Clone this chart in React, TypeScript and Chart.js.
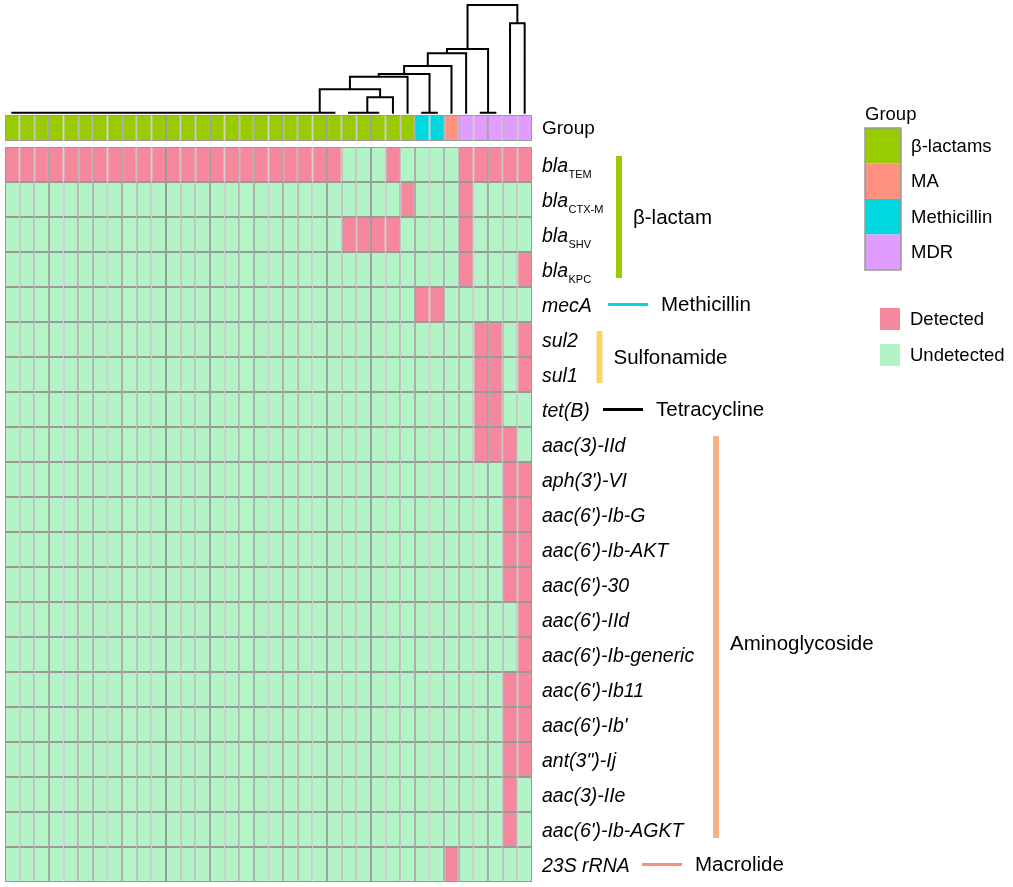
import React, { useEffect, useRef } from "react";
import { Chart, registerables } from "chart.js";

Chart.register(...registerables);

const FONT = "'Liberation Sans', Arial, Helvetica, sans-serif";

// ---------------- data ----------------
// Row labels (italic gene name + optional subscript)
const GENE_NAMES = [
  "bla", "bla", "bla", "bla", "mecA", "sul2", "sul1", "tet(B)",
  "aac(3)-IId", "aph(3')-VI", "aac(6')-Ib-G", "aac(6')-Ib-AKT", "aac(6')-30",
  "aac(6')-IId", "aac(6')-Ib-generic", "aac(6')-Ib11", "aac(6')-Ib'",
  "ant(3\")-Ij", "aac(3)-IIe", "aac(6')-Ib-AGKT", "23S rRNA",
];
const GENE_SUBSCRIPTS = [
  "TEM", "CTX-M", "SHV", "KPC", "", "", "", "", "", "", "", "", "", "", "", "", "", "", "", "", "",
];

// Column group membership (index into GROUP_NAMES)
const GROUP_NAMES = ["β-lactams", "MA", "Methicillin", "MDR"];
const GROUP_COLORS = ["#99CC00", "#FF9180", "#00D8E0", "#E09CFF"];
const COLUMN_GROUP = [
  0, 0, 0, 0, 0, 0, 0, 0, 0, 0, 0, 0, 0, 0, 0, 0, 0, 0, 0, 0, 0, 0, 0, 0, 0, 0, 0, 0,
  2, 2, 1, 3, 3, 3, 3, 3,
];

// Columns (0-based) in which each gene is detected
const DETECTED_COLUMNS: number[][] = [
  [0, 1, 2, 3, 4, 5, 6, 7, 8, 9, 10, 11, 12, 13, 14, 15, 16, 17, 18, 19, 20, 21, 22, 26, 31, 32, 33, 34, 35],
  [27, 31],
  [23, 24, 25, 26, 31],
  [31, 35],
  [28, 29],
  [32, 33, 35],
  [32, 33, 35],
  [32, 33],
  [32, 33, 34],
  [34, 35],
  [34, 35],
  [34, 35],
  [34, 35],
  [35],
  [35],
  [34, 35],
  [34, 35],
  [34, 35],
  [34],
  [34],
  [30],
];

const STATUS_NAMES = ["Detected", "Undetected"];
const STATUS_COLORS = ["#F5889D", "#B2F4C5"];

// Resistance class annotation
const CLASS_NAMES = ["β-lactam", "Methicillin", "Sulfonamide", "Tetracycline", "Aminoglycoside", "Macrolide"];
const CLASS_FIRST_ROW = [0, 4, 5, 7, 8, 20];
const CLASS_LAST_ROW = [3, 4, 6, 7, 19, 20];
const CLASS_COLORS = ["#99CC00", "#00D8E0", "#FCD36B", "#000000", "#F5B084", "#F8907F"];

// Column dendrogram (hclust style: negative = leaf column -(i+1), positive = earlier merge, 1-based)
const MERGE_LEFT = [
  -1, 1, 2, 3, 4, 5, 6, 7, 8, 9, 10, 11, 12, 13, 14, 15, 16, 17, 18, 19, 20, 21,
  -24, 23, -29, -33, 24, 22, 28, 29, 30, 31, 32, -35, 33,
];
const MERGE_RIGHT = [
  -2, -3, -4, -5, -6, -7, -8, -9, -10, -11, -12, -13, -14, -15, -16, -17, -18, -19, -20, -21, -22, -23,
  -25, -26, -30, -34, -27, 27, -28, 25, -31, -32, 26, -36, 34,
];
const MERGE_HEIGHT = [
  0, 0, 0, 0, 0, 0, 0, 0, 0, 0, 0, 0, 0, 0, 0, 0, 0, 0, 0, 0, 0, 0,
  0, 0, 0, 0, 0.44, 0.669, 1.03, 1.106, 1.334, 1.697, 1.82, 2.554, 3.077,
];

// ---------------- layout (in y units = one heatmap row) ----------------
const N_ROWS = GENE_NAMES.length;
const N_COLS = COLUMN_GROUP.length;
const GROUP_ROW = [21.17, 21.914];
const DENDRO_BASE = 21.98;
const Y_MAX = 25.1;

function buildDendrogram() {
  const nodeX: number[] = [];
  const nodeH: number[] = [];
  const pts: { x: number; y: number | null }[] = [];
  const pos = (id: number): [number, number] =>
    id < 0 ? [-id - 1 + 0.5, 0] : [nodeX[id - 1], nodeH[id - 1]];
  for (let k = 0; k < MERGE_LEFT.length; k++) {
    const [xa, ha] = pos(MERGE_LEFT[k]);
    const [xb, hb] = pos(MERGE_RIGHT[k]);
    const h = MERGE_HEIGHT[k];
    pts.push({ x: xa, y: DENDRO_BASE + ha });
    pts.push({ x: xa, y: DENDRO_BASE + h });
    pts.push({ x: xb, y: DENDRO_BASE + h });
    pts.push({ x: xb, y: DENDRO_BASE + hb });
    pts.push({ x: xb, y: null });
    nodeX.push((xa + xb) / 2);
    nodeH.push(h);
  }
  return pts;
}

const textPlugin = {
  id: "heatmapText",
  afterDraw(chart: any) {
    const ctx: CanvasRenderingContext2D = chart.ctx;
    const xs = chart.scales.x;
    const ys = chart.scales.y;
    const rowTop = (r: number) => ys.getPixelForValue(N_ROWS - r);
    const rowBottom = (r: number) => ys.getPixelForValue(N_ROWS - r - 1);
    const rowMid = (r: number) => (rowTop(r) + rowBottom(r)) / 2;
    const labelX = xs.getPixelForValue(N_COLS) + 10;
    ctx.save();
    ctx.fillStyle = "#000";
    ctx.textAlign = "left";

    // group row label
    ctx.font = `19px ${FONT}`;
    ctx.textBaseline = "middle";
    ctx.fillText("Group", labelX, (ys.getPixelForValue(GROUP_ROW[0]) + ys.getPixelForValue(GROUP_ROW[1])) / 2 + 1);

    // gene labels
    GENE_NAMES.forEach((name, r) => {
      const cy = rowMid(r);
      ctx.font = `italic 19.5px ${FONT}`;
      ctx.textBaseline = "alphabetic";
      const base = cy + 7;
      ctx.fillText(name, labelX, base);
      const sub = GENE_SUBSCRIPTS[r];
      if (sub) {
        const w = ctx.measureText(name).width;
        ctx.font = `11px ${FONT}`;
        ctx.fillText(sub, labelX + w + 0.5, base + 6);
      }
    });

    // class annotations
    const BAR_X = [619, 0, 599.5, 0, 716, 0];
    const LINE_X = [0, 608, 0, 603, 0, 642];
    ctx.textBaseline = "middle";
    CLASS_NAMES.forEach((name, i) => {
      const r0 = CLASS_FIRST_ROW[i];
      const r1 = CLASS_LAST_ROW[i];
      ctx.fillStyle = CLASS_COLORS[i];
      let tx: number;
      let ty: number;
      if (r0 !== r1) {
        const top = rowTop(r0) + 9;
        const bottom = rowBottom(r1) - 9;
        ctx.fillRect(BAR_X[i] - 3, top, 6, bottom - top);
        tx = BAR_X[i] + 14;
        ty = (top + bottom) / 2 + (i === 4 ? 6 : 0);
      } else {
        const cy = rowMid(r0);
        ctx.fillRect(LINE_X[i], cy - 1.5, 40, 3);
        tx = LINE_X[i] + 53;
        ty = cy;
      }
      ctx.fillStyle = "#000";
      ctx.font = `20.5px ${FONT}`;
      ctx.fillText(name, tx, ty + 1);
    });

    // group legend
    const lx = 865;
    const ly = 128;
    const bw = 36;
    const bh = 35.5;
    ctx.font = `18.5px ${FONT}`;
    ctx.fillStyle = "#000";
    ctx.fillText("Group", lx, 115);
    GROUP_NAMES.forEach((g, i) => {
      ctx.fillStyle = GROUP_COLORS[i];
      ctx.fillRect(lx, ly + i * bh, bw, bh);
      ctx.fillStyle = "#000";
      ctx.fillText(g, lx + 46, ly + i * bh + bh / 2 + 1);
    });
    ctx.strokeStyle = "#999999";
    ctx.lineWidth = 1.5;
    ctx.strokeRect(lx, ly, bw, bh * GROUP_NAMES.length);

    // status legend
    STATUS_NAMES.forEach((s, i) => {
      const by = 308 + i * 36;
      ctx.fillStyle = STATUS_COLORS[i];
      ctx.fillRect(880, by, 20, 22);
      ctx.fillStyle = "#000";
      ctx.fillText(s, 910, by + 12);
    });
    ctx.restore();
  },
};

export default function App() {
  const ref = useRef<HTMLCanvasElement | null>(null);
  useEffect(() => {
    if (!ref.current) return;
    const datasets: any[] = [];
    GENE_NAMES.forEach((_, r) => {
      const lo = N_ROWS - r - 1;
      datasets.push({
        type: "bar",
        label: GENE_NAMES[r] + GENE_SUBSCRIPTS[r],
        data: COLUMN_GROUP.map((_, c) => ({ x: c + 0.5, y: [lo, lo + 1] })),
        backgroundColor: COLUMN_GROUP.map((_, c) =>
          DETECTED_COLUMNS[r].includes(c) ? STATUS_COLORS[0] : STATUS_COLORS[1]
        ),
        borderColor: "#999999",
        borderWidth: 1,
        borderSkipped: false,
        inflateAmount: 0,
        grouped: false,
        barPercentage: 1,
        categoryPercentage: 1,
      });
    });
    datasets.push({
      type: "bar",
      label: "Group",
      data: COLUMN_GROUP.map((_, c) => ({ x: c + 0.5, y: GROUP_ROW })),
      backgroundColor: COLUMN_GROUP.map((g) => GROUP_COLORS[g]),
      borderColor: "#999999",
      borderWidth: 1,
      borderSkipped: false,
      inflateAmount: 0,
      grouped: false,
      barPercentage: 1,
      categoryPercentage: 1,
    });
    datasets.push({
      type: "line",
      label: "dendrogram",
      data: buildDendrogram(),
      borderColor: "#000000",
      borderWidth: 2,
      pointRadius: 0,
      spanGaps: false,
      tension: 0,
      clip: false,
      borderCapStyle: "square",
    });

    const chart = new Chart(ref.current, {
      type: "bar",
      data: { datasets },
      options: {
        animation: false,
        responsive: true,
        maintainAspectRatio: false,
        layout: { padding: { left: 5, right: 481, top: 3.5, bottom: 5 } },
        plugins: { legend: { display: false }, tooltip: { enabled: false } },
        events: [],
        scales: {
          x: { type: "linear", min: 0, max: N_COLS, offset: false, display: false },
          y: { type: "linear", min: 0, max: Y_MAX, display: false },
        },
      },
      plugins: [textPlugin],
    });
    return () => chart.destroy();
  }, []);
  return (
    <div style={{ position: "fixed", left: 0, top: 0, width: 1013, height: 887, background: "#fff" }}>
      <canvas ref={ref} />
    </div>
  );
}
